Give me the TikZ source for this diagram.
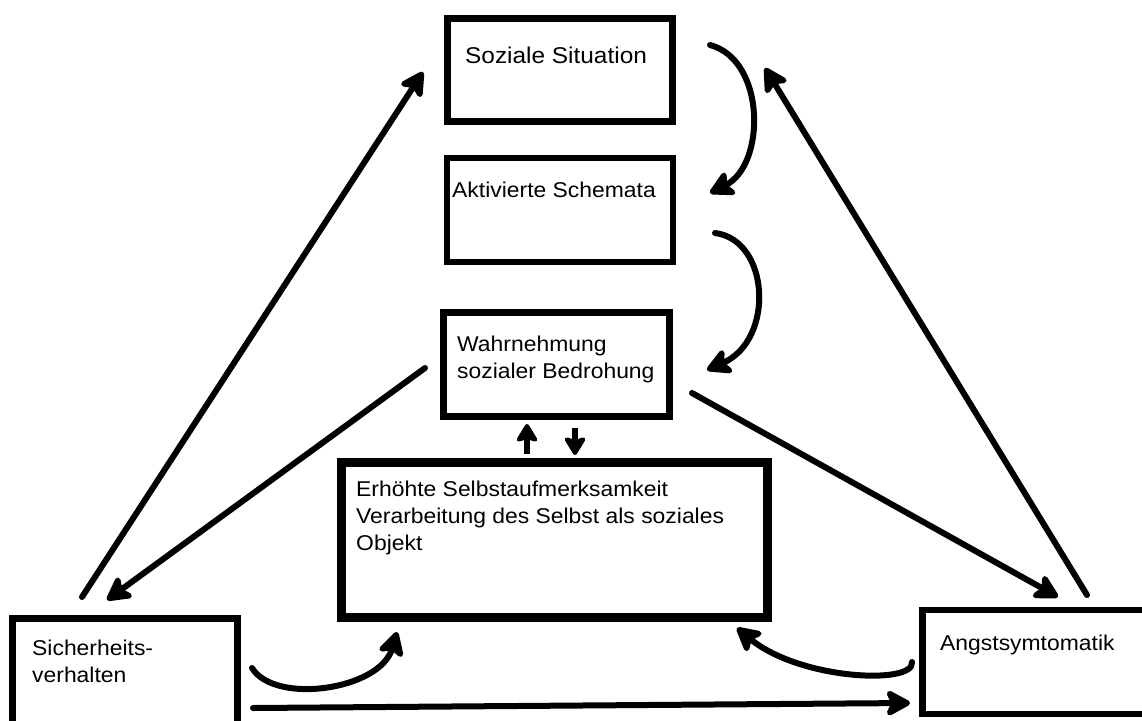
\documentclass[tikz,border=0pt]{standalone}
\usepackage{fontspec}
\setmainfont{Liberation Sans}[FakeStretch=1.07]
\usetikzlibrary{arrows.meta}
\begin{document}
\begin{tikzpicture}[x=1pt,y=-1pt,
  box/.style={draw, line width=7pt, rectangle, inner sep=0pt},
  txt/.style={anchor=base west, inner sep=0pt, font=\fontsize{21.4}{27}\selectfont, align=left},
  arr/.style={line width=6pt, -{Stealth[length=29pt,width=31pt,inset=7pt,round]}},
  sarr/.style={line width=6pt, -{Stealth[length=21pt,width=25pt,inset=4pt,round]}}
]
\useasboundingbox (0,0) rectangle (1142,720);
\clip (0,0) rectangle (1142,720);

% boxes
\node[box, minimum width=225pt, minimum height=103pt] (soz) at (560,70) {};
\node[box, line width=6.5pt, minimum width=226pt, minimum height=104pt] (akt) at (560,210) {};
\node[box, minimum width=226pt, minimum height=104pt] (wahr) at (556.5,364.5) {};
\node[box, line width=9pt, minimum width=426pt, minimum height=155pt] (erh) at (554.5,540) {};
\node[box, minimum width=225pt, minimum height=120pt] (sich) at (125,678) {};
\node[box, line width=6.5pt, minimum width=250pt, minimum height=104pt] (angst) at (1047.5,662) {};

% texts (base anchor = baseline of the last line)
\node[txt, font=\fontsize{22.8}{27}\selectfont] (soztxt) at (465,63) {Soziale Situation};
\node[txt] (akttxt) at (452,197) {Aktivierte Schemata};
\node[txt] (wahrtxt) at (457,378) {Wahrnehmung\\sozialer Bedrohung};
\node[txt] (erhtxt) at (356,550) {Erhöhte Selbstaufmerksamkeit\\Verarbeitung des Selbst als soziales\\Objekt};
\node[txt] (sichtxt) at (32,682) {Sicherheits-\\verhalten};
\node[txt] (angsttxt) at (940,650) {Angstsymtomatik};

% connector end points
\coordinate (p1s) at (82,597);   \coordinate (p1e) at (423,72);
\coordinate (p2s) at (425,368);  \coordinate (p2e) at (107,600);
\coordinate (p3s) at (1087,595); \coordinate (p3e) at (765,68);
\coordinate (p4s) at (692,393);  \coordinate (p4e) at (1058,597);
\coordinate (c1s) at (710,45);   \coordinate (c1e) at (710,193);
\coordinate (c2s) at (715,233);  \coordinate (c2e) at (707,370);
\coordinate (c3s) at (252,668);  \coordinate (c3e) at (397,632);
\coordinate (c4s) at (912,662);  \coordinate (c4e) at (737,628);
\coordinate (hs) at (253,708);   \coordinate (he) at (910,703);
\coordinate (us) at (527,454);   \coordinate (ue) at (527,424);
\coordinate (ds) at (575,428);   \coordinate (de) at (575,455);

% straight connectors
\draw[arr, line cap=round] (p1s) -- (p1e);
\draw[arr, line cap=round] (p2s) -- (p2e);
\draw[arr, line cap=round] (p3s) -- (p3e);
\draw[arr, line cap=round] (p4s) -- (p4e);
\draw[arr, line cap=round] (hs) -- (he);

% curved connectors
\draw[arr, line cap=round] (c1s) .. controls (766,60) and (766,165) .. (c1e);
\draw[arr, line cap=round] (c2s) .. controls (770,240) and (775,340) .. (c2e);
\draw[arr, line cap=round] (c3s) .. controls (275,705) and (380,690) .. (c3e);
\draw[arr, line cap=round] (c4s) .. controls (915,685) and (800,680) .. (c4e);

% short arrows between Wahrnehmung and Erhoehte
\draw[sarr] (us) -- (ue);
\draw[sarr] (ds) -- (de);
\end{tikzpicture}
\end{document}
